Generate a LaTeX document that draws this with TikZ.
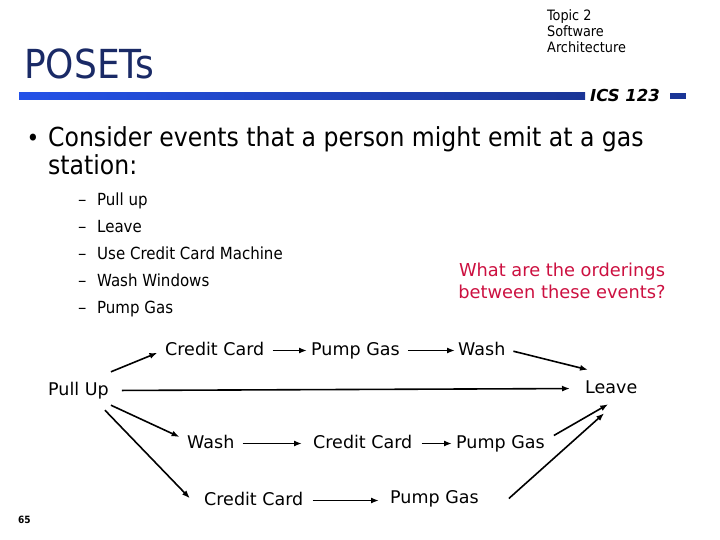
\documentclass[tikz,border=0pt]{standalone}
\usepackage{fontspec}
\setmainfont{DejaVu Sans Condensed}
\newfontfamily\verd{DejaVu Sans}
\definecolor{TitleNavy}{HTML}{1A2A66}
\definecolor{BarLight}{HTML}{2452E8}
\definecolor{BarDark}{HTML}{1A3596}
\definecolor{AskRed}{HTML}{CC1040}
\usetikzlibrary{positioning,arrows.meta}

\begin{document}
\begin{tikzpicture}[x=1pt, y=-1pt,
      ev/.style={font=\verd\fontsize{17.5}{20}\selectfont, inner sep=2pt, anchor=base west,
        text height=12pt, text depth=3pt},
      ar/.style={-{Latex[length=8pt,width=6pt]}, line width=1.6pt}]
      \useasboundingbox (0,0) rectangle (720,540);
      % header
      \node[anchor=base west, inner sep=0, text=TitleNavy,
        font=\fontsize{40}{40}\selectfont] (title) at (24,79) {POSETs};
      \node[anchor=north west, inner sep=0, align=left,
        font=\fontsize{14.3}{16}\selectfont] (topic) at (547,9) {Topic 2\\Software\\Architecture};
      \shade[left color=BarLight, right color=BarDark] (19,92.5) rectangle (585,99.5);
      \node[anchor=base west, inner sep=0, font=\verd\bfseries\itshape\fontsize{16.5}{16.5}\selectfont]
        (ics) at (590,102) {ICS 123};
      \fill[BarDark] (670,93) rectangle (686,99.5);
      % bullet text
      \node[inner sep=0, font=\fontsize{24}{24}\selectfont] (dot) at (33,140) {•};
      \node[anchor=base west, inner sep=0, align=left,
        font=\fontsize{26.2}{28}\selectfont] (lead) at (48,175)
        {Consider events that a person might emit at a gas\\station:};
      \node[anchor=base west, inner sep=0, align=left,
        font=\fontsize{16.7}{27}\selectfont] (items) at (78,313)
        {\makebox[19pt][l]{\verd –}Pull up\\\makebox[19pt][l]{\verd –}Leave\\
         \makebox[19pt][l]{\verd –}Use Credit Card Machine\\\makebox[19pt][l]{\verd –}Wash Windows\\
         \makebox[19pt][l]{\verd –}Pump Gas};
      \node[anchor=base, inner sep=0, align=center, text=AskRed,
        font=\verd\fontsize{17.8}{22}\selectfont] (ask) at (562,298)
        {What are the orderings\\between these events?};
      % the orderings
      \node[ev] (cc1) at (163,355) {Credit Card};
      \node[ev] (pg1) at (309,355) {Pump Gas};
      \node[ev] (wa1) at (456,355) {Wash};
      \node[ev] (pull) at (46,395) {Pull Up};
      \node[ev] (leave) at (583,393) {Leave};
      \node[ev] (wa2) at (185,448) {Wash};
      \node[ev] (cc2) at (311,448) {Credit Card};
      \node[ev] (pg2) at (454,448) {Pump Gas};
      \node[ev] (cc3) at (202,505) {Credit Card};
      \node[ev] (pg3) at (388,503) {Pump Gas};
      \draw[ar, shorten >=6pt] ([yshift=9pt]pull.north east) -- (cc1.west);
      \draw[ar, shorten <=6pt, shorten >=2pt] (cc1.east) -- (pg1.west);
      \draw[ar, shorten <=6pt, shorten >=1pt] (pg1.east) -- (wa1.west);
      \draw[ar, shorten <=3pt] ([xshift=3pt]wa1.east) -- ([xshift=5pt,yshift=9pt]leave.north west);
      \draw[ar, shorten <=11pt, shorten >=13pt] (pull.east) -- (leave.west);
      \draw[ar, shorten >=6pt] ([yshift=-5pt]pull.south east) -- ([yshift=4pt]wa2.west);
      \draw[ar, shorten >=3pt] ([xshift=-6pt,yshift=-10pt]pull.south east) -- ([xshift=-10pt]cc3.west);
      \draw[ar, shorten <=6pt, shorten >=9pt] (wa2.east) -- (cc2.west);
      \draw[ar, shorten <=7pt, shorten >=2pt] (cc2.east) -- (pg2.west);
      \draw[ar] ([xshift=7pt,yshift=8pt]pg2.east) -- ([xshift=-3pt,yshift=-6pt]leave.south);
      \draw[ar, shorten <=7pt, shorten >=9pt] (cc3.east) -- (cc3.east -| pg3.west);
      \draw[ar] ([xshift=28pt]pg3.east) -- ([xshift=-7pt,yshift=-15pt]leave.south);
      % page number
      \node[anchor=base west, inner sep=0, font=\bfseries\fontsize{10}{10}\selectfont]
        (page) at (18,523) {65};
    \end{tikzpicture}
\end{document}
